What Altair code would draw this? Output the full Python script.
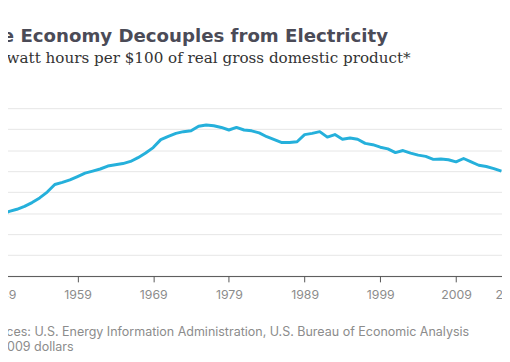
import altair as alt
import pandas as pd

# ---- data ----
years = list(range(1949, 2016))
kwh_per_100 = [
    14.7, 15.4, 15.9, 16.6, 17.5, 18.6, 20.0, 21.8, 22.3, 22.9,   # 1949-1958
    23.7, 24.5, 25.0, 25.5, 26.2, 26.5, 26.8, 27.3, 28.2, 29.3,   # 1959-1968
    30.6, 32.5, 33.3, 34.0, 34.4, 34.6, 35.7, 36.0, 35.8, 35.4,   # 1969-1978
    34.8, 35.4, 34.8, 34.6, 34.1, 33.2, 32.5, 31.8, 31.8, 32.0,   # 1979-1988
    33.7, 34.0, 34.4, 33.1, 33.7, 32.6, 32.9, 32.6, 31.6, 31.3,   # 1989-1998
    30.7, 30.3, 29.4, 29.9, 29.3, 28.8, 28.5, 27.8, 27.9, 27.7,   # 1999-2008
    27.2, 28.0, 27.2, 26.4, 26.1, 25.6, 25.0,                     # 2009-2015
]
x_ticks = [1949, 1959, 1969, 1979, 1989, 1999, 2009, 2016]
y_grid = [0, 5, 10, 15, 20, 25, 30, 35, 40]

title_text = "The Economy Decouples from Electricity"
subtitle_text = "Kilowatt hours per $100 of real gross domestic product*"
source_lines = [
    "Sources: U.S. Energy Information Administration, U.S. Bureau of Economic Analysis",
    "*In 2009 dollars",
]

df = pd.DataFrame({"year": years, "value": kwh_per_100})

chart = (
    alt.Chart(df)
    .mark_line(color="#25b0db", strokeWidth=3, clip=True, strokeJoin="round")
    .encode(
        x=alt.X(
            "year:Q",
            scale=alt.Scale(domain=[1949, 2019], range=[1.7, 540.2], nice=False, zero=False),
            axis=alt.Axis(
                values=x_ticks,
                format="d",
                grid=False,
                domainColor="#555555",
                tickColor="#555555",
                tickSize=6,
                labelFont="Inter",
                labelFontSize=12.5,
                labelColor="#8c8c8c",
                labelPadding=17,
                labelBaseline="alphabetic",
                labelFlush=False,
                title=source_lines,
                titleFont="Inter",
                titleFontSize=12.7,
                titleFontWeight="normal",
                titleColor="#8c8c8c",
                titleX=-22,
                titleY=60.5,
                titleAlign="left",
                titleBaseline="alphabetic",
                titleLineHeight=15.5,
            ),
        ),
        y=alt.Y(
            "value:Q",
            scale=alt.Scale(domain=[0, 40], nice=False),
            axis=alt.Axis(
                values=y_grid,
                grid=True,
                gridColor="#e6e6e6",
                labels=False,
                ticks=False,
                domain=False,
                title=None,
            ),
        ),
    )
    .properties(
        width=510,
        height=170.5,
        padding={"left": -8, "right": 0, "top": 99, "bottom": 76.5},
        autosize=alt.AutoSizeParams(type="none"),
        title=alt.TitleParams(
            text=title_text,
            subtitle=subtitle_text,
            anchor="start",
            frame="group",
            orient="top",
            dx=-24,
            offset=43,
            font="DejaVu Sans",
            fontSize=18.45,
            fontWeight="bold",
            color="#4b4b57",
            subtitleFont="DejaVu Serif",
            subtitleFontSize=15.4,
            subtitleColor="#333333",
            subtitlePadding=5.4,
        ),
    )
    .configure_view(stroke=None)
)

chart.save("out.html", embed_options={"renderer": "svg", "actions": False})
